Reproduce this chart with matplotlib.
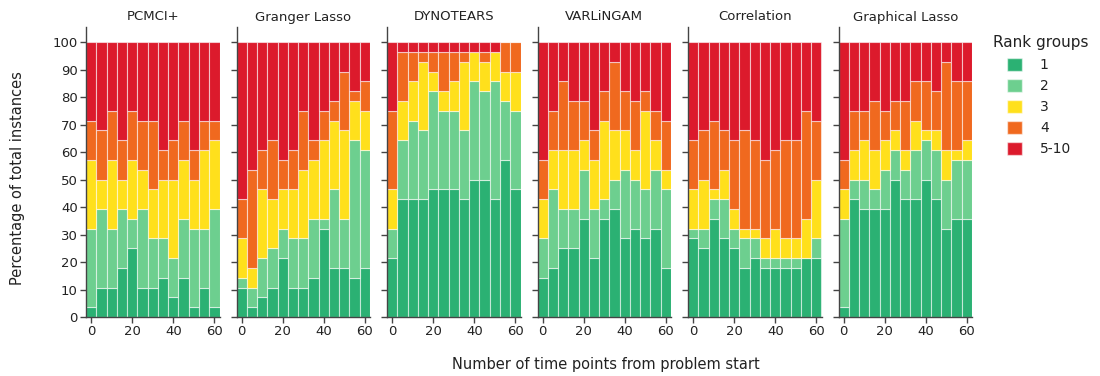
import numpy as np
import matplotlib
matplotlib.use("Agg")
from matplotlib import pyplot as plt
from matplotlib.patches import Patch

plt.rcParams["font.family"] = ["DejaVu Sans"]

N_INSTANCES = 28
time_points = [0, 5, 10, 15, 20, 25, 30, 35, 40, 45, 50, 55, 60]
rank_groups = ["1", "2", "3", "4", "5-10"]
methods = ["PCMCI+", "Granger Lasso", "DYNOTEARS", "VARLiNGAM", "Correlation", "Graphical Lasso"]

# instance counts per rank group (rows: 1, 2, 3, 4, 5-10), one column per time point
pcmci = [
    [1, 3, 3, 5, 7, 3, 3, 4, 2, 4, 1, 3, 1],
    [8, 8, 6, 6, 3, 8, 5, 4, 4, 6, 8, 6, 10],
    [7, 3, 7, 3, 6, 4, 5, 6, 8, 6, 5, 8, 7],
    [4, 5, 5, 4, 5, 5, 7, 3, 4, 4, 3, 3, 2],
    [8, 9, 7, 10, 7, 8, 8, 11, 10, 8, 11, 8, 8],
]
granger = [
    [3, 1, 2, 3, 6, 3, 3, 4, 9, 5, 5, 4, 5],
    [1, 2, 4, 4, 3, 5, 5, 6, 1, 8, 5, 14, 12],
    [4, 2, 7, 5, 4, 5, 7, 6, 8, 7, 9, 4, 4],
    [4, 10, 4, 6, 3, 4, 6, 2, 3, 2, 6, 1, 3],
    [16, 13, 11, 10, 12, 11, 7, 10, 7, 6, 3, 5, 4],
]
dynotears = [
    [6, 12, 12, 12, 13, 13, 13, 12, 14, 14, 12, 16, 13],
    [3, 6, 8, 7, 10, 8, 8, 7, 10, 9, 12, 6, 8],
    [4, 4, 4, 7, 2, 2, 3, 7, 3, 3, 3, 3, 4],
    [8, 5, 3, 1, 2, 4, 3, 1, 0, 1, 0, 3, 3],
    [7, 1, 1, 1, 1, 1, 1, 1, 1, 1, 1, 0, 0],
]
varlingam = [
    [4, 5, 7, 7, 10, 6, 10, 11, 8, 9, 8, 9, 5],
    [4, 8, 4, 4, 5, 5, 2, 3, 7, 5, 5, 6, 8],
    [4, 4, 6, 6, 3, 5, 8, 5, 4, 3, 8, 3, 2],
    [4, 4, 7, 5, 4, 3, 3, 7, 4, 5, 2, 3, 5],
    [12, 7, 4, 6, 6, 9, 5, 2, 5, 6, 5, 7, 8],
]
correlation = [
    [8, 7, 10, 8, 7, 5, 6, 5, 5, 5, 5, 6, 6],
    [1, 2, 2, 4, 2, 3, 2, 1, 1, 1, 1, 0, 2],
    [4, 5, 1, 3, 2, 1, 1, 2, 3, 2, 2, 4, 6],
    [5, 5, 7, 4, 7, 10, 9, 8, 8, 10, 10, 11, 6],
    [10, 9, 8, 9, 10, 9, 10, 12, 11, 10, 10, 7, 8],
]
glasso = [
    [1, 12, 11, 11, 11, 14, 12, 12, 14, 12, 9, 10, 10],
    [9, 2, 3, 2, 4, 3, 3, 5, 4, 5, 5, 6, 6],
    [3, 3, 4, 4, 3, 2, 2, 3, 1, 2, 3, 1, 2],
    [3, 4, 3, 5, 3, 3, 5, 4, 5, 4, 9, 7, 6],
    [12, 7, 7, 6, 7, 6, 6, 4, 4, 5, 2, 4, 4],
]
counts = [pcmci, granger, dynotears, varlingam, correlation, glasso]

colors = ["#2bb173", "#6dcf8f", "#ffe01c", "#f0691f", "#dc1a2c"]
axis_col = "#444444"
text_col = "#222222"

W, H = 1100, 376
fig = plt.figure(figsize=(W / 100, H / 100), dpi=100)

x = np.array(time_points)
for i, (name, data) in enumerate(zip(methods, counts)):
    left = 86 + i * 150.5
    ax = fig.add_axes([left / W, (H - 317) / H, 133.5 / W, (317 - 27) / H])
    bottom = np.zeros(len(x))
    for grp, col in zip(data, colors):
        pct = np.array(grp) / N_INSTANCES * 100
        ax.bar(x, pct, width=5, bottom=bottom, color=col,
               edgecolor=(1, 1, 1, 0.55), linewidth=0.8)
        bottom += pct
    ax.set_xlim(-2.5, 62.5)
    ax.set_ylim(0, 105.5)
    ax.set_xticks([0, 20, 40, 60])
    ax.set_yticks(range(0, 101, 10))
    for s in ["top", "right"]:
        ax.spines[s].set_visible(False)
    for s in ["left", "bottom"]:
        ax.spines[s].set_color(axis_col)
        ax.spines[s].set_linewidth(1)
    ax.tick_params(direction="out", length=4, width=1, color=axis_col,
                   labelcolor=text_col, labelsize=9.5, pad=2)
    if i > 0:
        ax.tick_params(axis="y", labelleft=False)
    # panel title
    fig.text((left + 66.75) / W, 1 - 17 / H, name, ha="center", va="center",
             fontsize=9.5, color=text_col)

fig.text(18 / W, 1 - 178 / H, "Percentage of total instances", rotation=90,
         ha="center", va="center", fontsize=10.5, color=text_col)
fig.text(606 / W, 1 - 365 / H, "Number of time points from problem start",
         ha="center", va="center", fontsize=10.5, color=text_col)

# legend: title as separate text so the swatches can be indented
fig.text(993 / W, 1 - 42 / H, "Rank groups", ha="left", va="center",
         fontsize=11, color=text_col)
handles = [Patch(facecolor=c, edgecolor=(1, 1, 1, 0.55), label=l) for c, l in zip(colors, rank_groups)]
leg = fig.legend(handles=handles, loc="upper left",
                 bbox_to_anchor=(994 / W, 1 - 45 / H), frameon=False,
                 fontsize=10, handlelength=1.1, handleheight=1.1,
                 handletextpad=1.3, labelspacing=0.48)
for t in leg.get_texts():
    t.set_color(text_col)

fig.savefig("out.png", dpi=100)
